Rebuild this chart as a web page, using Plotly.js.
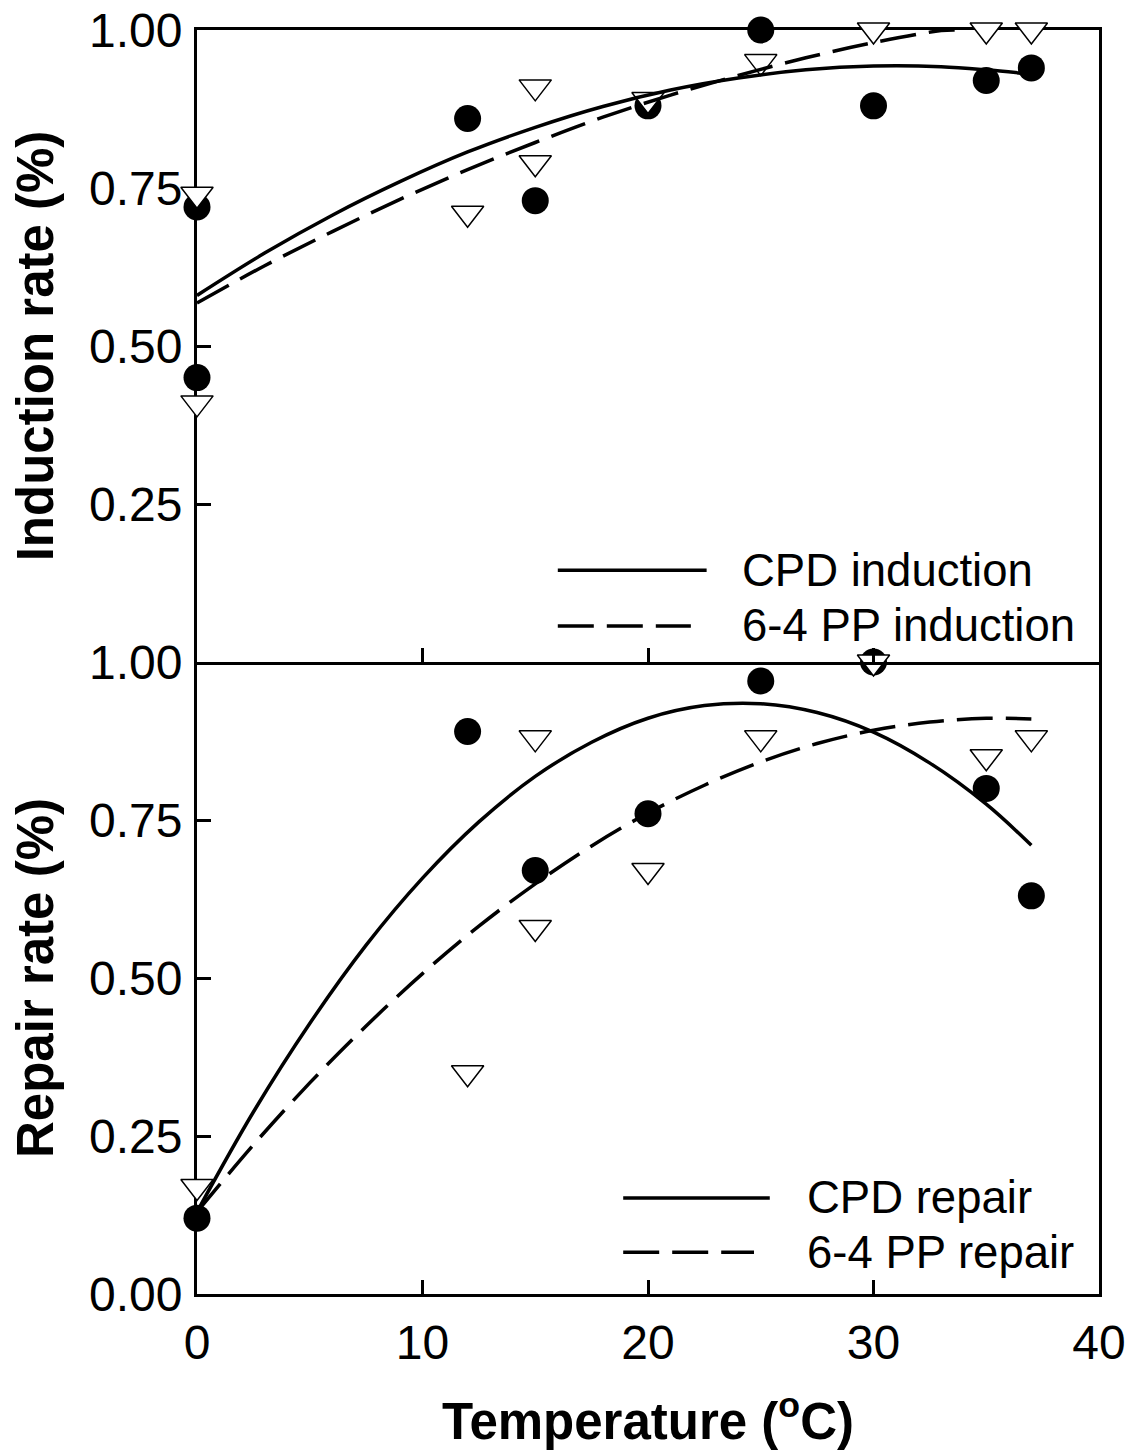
<!DOCTYPE html>
<html>
<head>
<meta charset="utf-8">
<script src="https://cdn.plot.ly/plotly-3.0.1.min.js"></script>
<style>html,body{margin:0;padding:0;background:#fff;}#chart{width:1127px;height:1454px;}</style>
</head>
<body>
<div id="chart"></div>
<script>
// ---- Top panel: induction ----
const cpdIndX = [0, 0, 12, 15, 20, 25, 30, 35, 37];
const cpdIndY = [0.72, 0.45, 0.86, 0.73, 0.88, 1.00, 0.88, 0.92, 0.94];
const ppIndX = [0, 0, 12, 15, 15, 20, 25, 30, 35, 37];
const ppIndY = [0.74, 0.41, 0.71, 0.91, 0.79, 0.89, 0.95, 1.00, 1.00, 1.00];

const cpdIndFitX = [0, 3, 6, 9, 12, 15, 18, 21, 24, 27, 30, 33, 35, 37];
const cpdIndFitY = [0.580, 0.647, 0.707, 0.760, 0.807, 0.846, 0.879, 0.905, 0.924, 0.937, 0.943, 0.942, 0.937, 0.930];
const ppIndFitX = [0, 3, 6, 9, 12, 15, 18, 21, 24, 27, 30, 33, 33.6];
const ppIndFitY = [0.568, 0.627, 0.681, 0.732, 0.779, 0.822, 0.862, 0.897, 0.928, 0.956, 0.980, 0.999, 1.000];

// ---- Bottom panel: repair ----
const cpdRepX = [0, 12, 15, 20, 25, 30, 35, 37];
const cpdRepY = [0.12, 0.89, 0.67, 0.76, 0.97, 1.00, 0.80, 0.63];
const ppRepX = [0, 12, 15, 15, 20, 25, 30, 35, 37];
const ppRepY = [0.17, 0.35, 0.88, 0.58, 0.67, 0.88, 1.00, 0.85, 0.88];

const cpdRepFitX = [0, 2.5, 5, 7.5, 10, 12.5, 15, 17.5, 20, 22.5, 25, 27.5, 30, 32.5, 35, 37];
const cpdRepFitY = [0.130, 0.288, 0.428, 0.552, 0.658, 0.747, 0.819, 0.873, 0.911, 0.931, 0.934, 0.920, 0.889, 0.840, 0.775, 0.710];
const ppRepFitX = [0, 2.5, 5, 7.5, 10, 12.5, 15, 17.5, 20, 22.5, 25, 27.5, 30, 32.5, 35, 37];
const ppRepFitY = [0.130, 0.236, 0.334, 0.424, 0.507, 0.582, 0.649, 0.709, 0.761, 0.805, 0.842, 0.871, 0.892, 0.905, 0.911, 0.910];

const xTicks = [0, 10, 20, 30, 40];
const yTicksTop = [0.25, 0.50, 0.75, 1.00];
const yTicksBottom = [0.00, 0.25, 0.50, 0.75, 1.00];
const legendTop = ['CPD induction', '6-4 PP induction'];
const legendBottom = ['CPD repair', '6-4 PP repair'];

const FONT = 'Liberation Sans, Arial, sans-serif';
const LW = 3.5;
const DASH = '36px,13px';

function circles(x, y, xa, ya) {
  return {x: x, y: y, xaxis: xa, yaxis: ya, type: 'scatter', mode: 'markers', cliponaxis: false,
    showlegend: false, marker: {symbol: 'circle', size: 27, color: '#000', line: {width: 0}}};
}
function triangles(x, y, xa, ya) {
  return {x: x, y: y, xaxis: xa, yaxis: ya, type: 'scatter', mode: 'markers', cliponaxis: false,
    showlegend: false, marker: {symbol: 'triangle-down', size: 28, color: '#fff', line: {width: 1.5, color: '#000'}}};
}
function curve(x, y, xa, ya, dash, name) {
  return {x: x, y: y, xaxis: xa, yaxis: ya, type: 'scatter', mode: 'lines', name: name, showlegend: false,
    line: {color: '#000', width: LW, dash: dash, shape: 'spline'}};
}

const data = [
  circles(cpdIndX, cpdIndY, 'x2', 'y2'),
  triangles(ppIndX, ppIndY, 'x2', 'y2'),
  curve(cpdIndFitX, cpdIndFitY, 'x2', 'y2', 'solid', legendTop[0]),
  curve(ppIndFitX, ppIndFitY, 'x2', 'y2', DASH, legendTop[1]),
  circles(cpdRepX, cpdRepY, 'x', 'y'),
  triangles(ppRepX, ppRepY, 'x', 'y'),
  curve(cpdRepFitX, cpdRepFitY, 'x', 'y', 'solid', legendBottom[0]),
  curve(ppRepFitX, ppRepFitY, 'x', 'y', DASH, legendBottom[1])
];

const axisCommon = {
  showgrid: false, zeroline: false, showline: true, linecolor: '#000', linewidth: 3,
  ticks: 'inside', ticklen: 14, tickwidth: 3, tickcolor: '#000', layer: 'below traces',
  tickfont: {family: FONT, size: 48, color: '#000'}
};
const titleFont = {family: FONT, size: 51, weight: 'bold', color: '#000'};
const legFont = {family: FONT, size: 45.5, color: '#000'};

const layout = {
  width: 1127, height: 1454,
  margin: {l: 197, r: 28, t: 30, b: 160},
  paper_bgcolor: '#fff', plot_bgcolor: '#fff',
  showlegend: false,
  font: {family: FONT, color: '#000'},
  xaxis: Object.assign({}, axisCommon, {
    anchor: 'y', domain: [0, 1], range: [0, 40], tickmode: 'array', tickvals: xTicks,
    ticklabelstandoff: 4,
    title: {text: 'Temperature (<sup>o</sup>C)', font: titleFont, standoff: 36}
  }),
  yaxis: Object.assign({}, axisCommon, {
    anchor: 'x', domain: [0, 0.5], range: [0, 1], tickmode: 'array', tickvals: yTicksBottom, tickformat: '.2f',
    mirror: true, ticklabelstandoff: 2,
    title: {text: 'Repair rate (%)', font: titleFont, standoff: 20}
  }),
  xaxis2: Object.assign({}, axisCommon, {
    anchor: 'y2', domain: [0, 1], range: [0, 40], tickmode: 'array', tickvals: xTicks,
    showticklabels: false, mirror: true
  }),
  yaxis2: Object.assign({}, axisCommon, {
    anchor: 'x2', domain: [0.5, 1], range: [0, 1], tickmode: 'array', tickvals: yTicksTop, tickformat: '.2f',
    mirror: true, ticklabelstandoff: 2,
    title: {text: 'Induction rate (%)', font: titleFont, standoff: 20}
  }),
  shapes: [
    {type: 'line', xref: 'x2', yref: 'y2', x0: 16.0, x1: 22.6, y0: 0.145, y1: 0.145, line: {color: '#000', width: LW}},
    {type: 'line', xref: 'x2', yref: 'y2', x0: 16.0, x1: 21.9, y0: 0.057, y1: 0.057, line: {color: '#000', width: LW, dash: DASH}},
    {type: 'line', xref: 'x', yref: 'y', x0: 18.9, x1: 25.4, y0: 0.152, y1: 0.152, line: {color: '#000', width: LW}},
    {type: 'line', xref: 'x', yref: 'y', x0: 18.9, x1: 24.7, y0: 0.066, y1: 0.066, line: {color: '#000', width: LW, dash: DASH}}
  ],
  annotations: [
    {xref: 'x2', yref: 'y2', x: 24.1, y: 0.145, text: legendTop[0], showarrow: false, xanchor: 'left', yanchor: 'middle', font: legFont},
    {xref: 'x2', yref: 'y2', x: 24.1, y: 0.057, text: legendTop[1], showarrow: false, xanchor: 'left', yanchor: 'middle', font: legFont},
    {xref: 'x', yref: 'y', x: 26.96, y: 0.152, text: legendBottom[0], showarrow: false, xanchor: 'left', yanchor: 'middle', font: legFont},
    {xref: 'x', yref: 'y', x: 26.96, y: 0.066, text: legendBottom[1], showarrow: false, xanchor: 'left', yanchor: 'middle', font: legFont}
  ]
};

Plotly.newPlot('chart', data, layout, {staticPlot: true, displayModeBar: false});
</script>
</body>
</html>
